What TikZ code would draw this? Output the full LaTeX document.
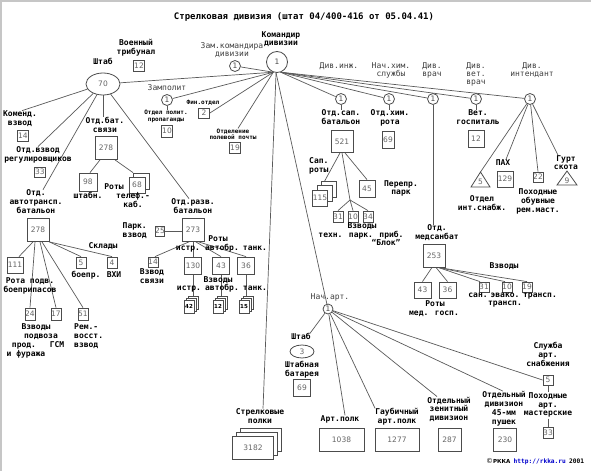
\documentclass[tikz,border=0pt]{standalone}
\usepackage{fontspec}
\setmainfont{DejaVu Sans}
\newfontfamily\mono{DejaVu Sans Mono}
\usetikzlibrary{shapes.geometric,shadows,backgrounds}
\begin{document}
\begin{tikzpicture}[x=1pt,y=-1pt,
 lab/.style={font=\mono\bfseries\fontsize{8}{8.8}\selectfont, align=center, inner sep=0pt, execute at begin node=\strut, execute at end node=\strut},
 reg/.style={font=\mono\fontsize{8}{8}\selectfont, text=black!75, align=center, inner sep=0pt, execute at begin node=\strut, execute at end node=\strut},
 sml/.style={font=\mono\bfseries\fontsize{6}{6.3}\selectfont, align=center, inner sep=0pt},
 bx/.style={draw=black!70, line width=0.8pt, fill=white, inner sep=0pt, font=\fontsize{7.5}{7.5}\selectfont, text=black!60},
 bxs/.style 2 args={bx, minimum width=#1, minimum height=#2},
 el/.style={ellipse, draw=black!70, line width=0.8pt, fill=white, inner sep=0pt, font=\fontsize{7.5}{7.5}\selectfont, text=black!60},
 cir/.style={circle, draw=black!70, line width=0.8pt, fill=white, inner sep=0pt, minimum size=11pt, font=\fontsize{7.5}{7.5}\selectfont, text=black!70},
 stk/.style={general shadow={shadow xshift=#1, shadow yshift=#1, draw=black!70, fill=white, line width=0.8pt}},
 stknum/.style={font=\bfseries\fontsize{5.5}{5.5}\selectfont, text=black},
 ln/.style={draw=black!65, line width=0.7pt},
]
\useasboundingbox (0,0) rectangle (591,471);
\draw[gray!45, line width=1.5pt] (0,1) -- (591,1);
\draw[gray!45, line width=1.5pt] (1,0) -- (1,471);

\node[font=\mono\bfseries\fontsize{9}{9}\selectfont, inner sep=0pt] (title) at (304,17) {Стрелковая дивизия (штат 04/400-416 от 05.04.41)};

% commander
\node[cir, minimum size=21pt] (cmdr) at (277,62) {1};
\node[lab] (cmdrl) at (281,40) {Командир\\дивизии};
\node[reg] (zaml) at (232,50.5) {Зам.командира\\дивизии};
\node[cir] (zamc) at (235,66) {1};
\node[lab] (tribl) at (136,48.5) {Военный\\трибунал};
\node[bxs={11pt}{11pt}] (b12t) at (139,66) {12};
\node[lab] (shtabl) at (103,63) {Штаб};
\node[el, minimum width=34pt, minimum height=22pt] (shtab) at (103,84) {70};
\node[reg] (zampl) at (167,89) {Замполит};
\node[cir] (zampc) at (167,100) {1};
\node[sml] (propl) at (166,116.5) {Отдел полит.\\пропаганды};
\node[bxs={11pt}{12pt}] (b10p) at (167,131) {10};
\node[sml] (finl) at (203,103) {Фин.отдел};
\node[bxs={11pt}{10pt}] (b2) at (204,113) {2};
\node[sml] (pochl) at (233,134) {Отделение\\полевой почты};
\node[bxs={11pt}{11pt}] (b19) at (235,148) {19};

% right top labels
\node[reg] (dinzh) at (339,67) {Див.инж.};
\node[reg] (nhim) at (391,71) {Нач.хим.\\службы};
\node[reg] (dvrach) at (432,71) {Див.\\врач};
\node[reg] (dvet) at (476,75) {Див.\\вет.\\врач};
\node[reg] (dint) at (532,71) {Див.\\интендант};
\node[cir] (sapc) at (341,99) {1};
\node[cir] (himc) at (389,99) {1};
\node[cir] (vrachc) at (433,99) {1};
\node[cir] (vetc) at (476,99) {1};
\node[cir] (intc) at (530,99) {1};

% Shtab children
\node[lab] (koml) at (20,119.5) {Коменд.\\взвод};
\node[bxs={11pt}{11pt}] (b14k) at (23,136) {14};
\node[lab] (regl) at (38,155.5) {Отд.взвод\\регулировщиков};
\node[bxs={11pt}{10pt}] (b33) at (40,172) {33};
\node[lab] (svl) at (105,126) {Отд.бат.\\связи};
\node[bxs={22pt}{23pt}] (b278s) at (106,148) {278};
\node[bxs={18pt}{18pt}] (b98) at (88,182) {98};
\node[bxs={16pt}{16pt}, stk=4pt] (b68) at (137,185) {68};
\node[lab] (rotyl1) at (114,188) {Роты};
\node[lab] (shtabnl) at (88,197) {штабн.};
\node[lab] (telefl) at (133,201) {телеф.-\\каб.};

\node[lab] (atl) at (36,203) {Отд.\\автотрансп.\\батальон};
\node[bxs={22pt}{23pt}] (b278a) at (38,230) {278};
\node[bxs={16pt}{16pt}] (b111) at (15,265) {111};
\node[lab] (rotapl) at (30,286.5) {Рота подв.\\боеприпасов};
\node[lab] (skladl) at (103,247) {Склады};
\node[bxs={10pt}{11pt}] (b5) at (81,262.5) {5};
\node[bxs={10pt}{11pt}] (b4) at (112,262.5) {4};
\node[lab] (boeprl) at (86,276) {боепр.};
\node[lab] (vhil) at (114,276) {ВХИ};
\node[bxs={10pt}{12pt}] (b24) at (30,314) {24};
\node[bxs={10pt}{12pt}] (b17) at (56,314) {17};
\node[bxs={10pt}{12pt}] (b51) at (83,314) {51};
\node[lab] (vzvl1) at (36,328) {Взводы};
\node[lab] (podvl) at (41,337) {подвоза};
\node[lab] (prodl) at (24,346) {прод.};
\node[lab] (gsml) at (57,346) {ГСМ};
\node[lab] (furl) at (26,355) {и фуража};
\node[lab, anchor=west, align=left] (reml) at (74,337) {Рем.-\\восст.\\взвод};

\node[lab] (razvl) at (193,207.5) {Отд.разв.\\батальон};
\node[bxs={22pt}{23pt}] (b273) at (193,229.5) {273};
\node[bxs={9pt}{10pt}] (b25) at (160,231) {25};
\node[lab, anchor=east, align=right] (parkl) at (147,231.5) {Парк.\\взвод};
\node[bxs={10pt}{10pt}] (b14r) at (153,262) {14};
\node[lab] (vsvl) at (152,277.5) {Взвод\\связи};
\node[bxs={17pt}{17pt}] (b130) at (193,265.5) {130};
\node[bxs={17pt}{17pt}] (b43) at (221,265.5) {43};
\node[bxs={17pt}{17pt}] (b36) at (246,265.5) {36};
\node[lab] (rotyl2) at (218,240) {Роты};
\node[lab] (istrl1) at (188,249) {истр.};
\node[lab] (avtl1) at (222,249) {автобр.};
\node[lab] (tankl1) at (255,249) {танк.};
\node[bxs={10pt}{13pt}, stk=4pt, stk=2pt, stknum] (s42) at (189,306.5) {42};
\node[bxs={10pt}{13pt}, stk=4pt, stk=2pt, stknum] (s12) at (218,306.5) {12};
\node[bxs={10pt}{13pt}, stk=4pt, stk=2pt, stknum] (s15) at (244,306.5) {15};
\node[lab] (vzvl2) at (218,281) {Взводы};
\node[lab] (istrl2) at (189,289) {истр.};
\node[lab] (avtl2) at (222,289) {автобр.};
\node[lab] (tankl2) at (255,289) {танк.};

% rifle regiments
\node[lab] (strl) at (260,417.5) {Стрелковые\\полки};
\node[bxs={41pt}{23pt}, stk=8pt, stk=4pt] (s3182) at (253,448) {3182};

% artillery
\node[reg] (nartl) at (330,298) {Нач.арт.};
\node[cir, minimum size=10pt] (artc) at (328,309) {1};
\node[lab] (ashl) at (301,338) {Штаб};
\node[el, minimum width=24pt, minimum height=13pt] (e3) at (302,351.5) {3};
\node[lab] (batl) at (302,370) {Штабная\\батарея};
\node[bxs={17pt}{17pt}] (b69a) at (302,387.5) {69};
\node[lab] (apl) at (340,420) {Арт.полк};
\node[bxs={45pt}{23pt}] (b1038) at (341.5,439.5) {1038};
\node[lab] (gaubl) at (397,417.5) {Гаубичный\\арт.полк};
\node[bxs={44pt}{23pt}] (b1277) at (397,439.5) {1277};
\node[lab] (zenl) at (449,410) {Отдельный\\зенитный\\дивизион};
\node[bxs={23pt}{23pt}] (b287) at (449.5,439.5) {287};
\node[lab] (p45l) at (504,409) {Отдельный\\дивизион\\45-мм\\пушек};
\node[bxs={23pt}{23pt}] (b230) at (505,439.5) {230};
\node[lab] (snabl) at (548,355.5) {Служба\\арт.\\снабжения};
\node[bxs={10pt}{10pt}] (b5s) at (548,380) {5};
\node[lab] (pohl) at (548,405.5) {Походные\\арт.\\мастерские};
\node[bxs={10pt}{11pt}] (b33s) at (548,432.5) {33};

% sapper battalion
\node[lab] (sapl) at (341,118.5) {Отд.сап.\\батальон};
\node[bxs={22pt}{22pt}] (b521) at (342,141.5) {521};
\node[bxs={15pt}{16pt}, stk=9pt, stk=4.5pt] (s115) at (320,198) {115};
\node[lab, anchor=west, align=left] (saprl) at (309,166.5) {Сап.\\роты};
\node[bxs={16pt}{17pt}] (b45) at (367,188.5) {45};
\node[lab] (perl) at (401,189) {Перепр.\\парк};
\coordinate (br) at (350,200);
\node[bxs={10pt}{11pt}] (b31) at (338,216.5) {31};
\node[bxs={10pt}{11pt}] (b10s) at (353,216.5) {10};
\node[bxs={10pt}{11pt}] (b34) at (368,216.5) {34};
\node[lab] (vzvl3) at (362,227) {Взводы};
\node[lab] (tehl) at (361,236) {техн. парк. приб.};
\node[lab] (blokl) at (386,244) {“Блок”};

% chem company
\node[lab] (himl) at (390,118.5) {Отд.хим.\\рота};
\node[bxs={12pt}{17pt}] (b69h) at (388,140) {69};

% medical battalion
\node[lab] (medl) at (437,233.5) {Отд.\\медсанбат};
\node[bxs={22pt}{23pt}] (b253) at (434,255.5) {253};
\node[bxs={17pt}{16pt}] (b43m) at (422.5,290) {43};
\node[bxs={17pt}{16pt}] (b36m) at (447.5,290) {36};
\node[lab] (rotyl3) at (435,305) {Роты};
\node[lab] (medgl) at (434,314) {мед. госп.};
\node[bxs={10pt}{10pt}] (b31m) at (484,287) {31};
\node[bxs={10pt}{10pt}] (b10m) at (507,287) {10};
\node[bxs={10pt}{10pt}] (b19m) at (527,287) {19};
\node[lab] (vzvl4) at (504,267) {Взводы};
\node[lab] (sanl) at (478,296) {сан.};
\node[lab] (evakl) at (505,296) {эвако.};
\node[lab] (trl1) at (540,296) {трансп.};
\node[lab] (trl2) at (505,304) {трансп.};

% vet hospital
\node[lab] (vetl) at (478,118.5) {Вет.\\госпиталь};
\node[bxs={16pt}{17pt}] (b12v) at (476,138.5) {12};

% intendant
\coordinate (t5a) at (480.5,172);
\coordinate (t5l) at (471,187);
\coordinate (t5r) at (490,187);
\draw[draw=black!70, line width=0.8pt, fill=white] (t5l) -- (t5a) -- (t5r) -- cycle;
\node[font=\fontsize{7.5}{7.5}\selectfont, text=black!60, inner sep=0pt] (t5n) at (480.5,182) {5};
\node[lab] (otdl) at (482,204) {Отдел\\инт.снабж.};
\node[lab] (pahl) at (503,164) {ПАХ};
\node[bxs={16pt}{16pt}] (b129) at (505,179) {129};
\node[bxs={10pt}{10pt}] (b22) at (538,177) {22};
\node[lab] (obuvl) at (538,202) {Походные\\обувные\\рем.маст.};
\coordinate (t9a) at (567,171);
\coordinate (t9l) at (557,185);
\coordinate (t9r) at (577,185);
\draw[draw=black!70, line width=0.8pt, fill=white] (t9l) -- (t9a) -- (t9r) -- cycle;
\node[font=\fontsize{7.5}{7.5}\selectfont, text=black!60, inner sep=0pt] (t9n) at (567,180.5) {9};
\node[lab] (gurtl) at (566,164) {Гурт\\скота};

% copyright
\node[anchor=west, inner sep=0pt] (copyr) at (486,462) {{\fontsize{7}{7}\selectfont ©}{\bfseries\fontsize{5.5}{6}\selectfont РККА} {\color{blue!80!black}\mono\bfseries\fontsize{6.2}{7}\selectfont http://rkka.ru} {\mono\bfseries\fontsize{6.2}{7}\selectfont 2001}};

\begin{scope}[on background layer]
\draw[ln] (zamc) -- (cmdr.-110);
\draw[ln] (shtab) -- (cmdr.-110);
\draw[ln] (zampc) -- (cmdr.-110);
\draw[ln] (b2.east) -- (cmdr.-110);
\draw[ln] ([xshift=5pt]pochl.north) -- (cmdr.-110);
\draw[ln] (cmdr.-95) -- ([xshift=3pt]strl.north);
\draw[ln] (cmdr.-95) -- (artc);
\foreach \c in {sapc,himc,vrachc,vetc,intc} \draw[ln] (cmdr.-70) -- (\c);

\draw[ln] (zampc.south) -- (zampc.south |- propl.north);
\draw[ln] (sapc.south) -- (sapc.south |- sapl.north);
\draw[ln] (himc.south) -- (himc.south |- himl.north);
\draw[ln] (vrachc.south) -- (vrachc.south |- medl.north);
\draw[ln] (vetc.south) -- (vetc.south |- vetl.north);

\draw[ln] (intc) -- (t5a);
\draw[ln] (intc) -- ([xshift=3pt]pahl.north);
\draw[ln] (intc) -- (b22.north);
\draw[ln] (intc) -- ([xshift=-8pt]gurtl.north);

\draw[ln] (shtab) -- ([xshift=2pt]koml.north);
\draw[ln] (shtab) -- (regl.north);
\draw[ln] (shtab.south) -- (shtab.south |- svl.north);
\draw[ln] (shtab) -- ([xshift=7pt]atl.north);
\draw[ln] (shtab) -- ([xshift=-4pt]razvl.north);

\draw[ln] ([xshift=-6pt]b278s.south) -- ([xshift=2pt]b98.north);
\draw[ln] ([xshift=9pt]b278s.south) -- ([xshift=-4pt,yshift=4pt]b68.north);

\draw[ln] ([xshift=-5pt]b278a.south) -- ([xshift=4pt]b111.north);
\draw[ln] (b278a.south east) -- (b5.north);
\draw[ln] (b278a.south east) -- (b4.north);
\draw[ln] ([xshift=-3pt]b278a.south) -- (b24.north);
\draw[ln] ([xshift=2pt]b278a.south) -- (b17.north);
\draw[ln] ([xshift=4pt]b278a.south) -- (b51.north);

\draw[ln] (b25.east) -- (b273.west |- b25.east);
\draw[ln] ([xshift=-3pt]b273.south) -- ([xshift=2pt]b14r.north);
\draw[ln] (b273.south) -- (b130.north);
\draw[ln] ([xshift=2pt]b273.south) -- (b43.north);
\draw[ln] ([xshift=4pt]b273.south) -- (b36.north);
\draw[ln] (b130.south) -- (b130.south |- s42.north);
\draw[ln] (b43.south) -- (b43.south |- s12.north);
\draw[ln] (b36.south) -- (b36.south |- s15.north);

\draw[ln] ([xshift=-2pt]b521.south) -- (s115.north);
\draw[ln] (b521.south) -- (br);
\draw[ln] (br) -- (b31.north);
\draw[ln] (br) -- (b10s.north);
\draw[ln] (br) -- (b34.north);
\draw[ln] ([xshift=3pt]b521.south) -- (b45.north);

\draw[ln] ([xshift=-2pt]b253.south) -- (b43m.north);
\draw[ln] ([xshift=2pt]b253.south) -- (b36m.north);
\draw[ln] ([xshift=4pt]b253.south) -- ([xshift=-4pt]b31m.north);
\draw[ln] ([xshift=4pt]b253.south) -- ([xshift=-2pt]b10m.north);
\draw[ln] ([xshift=4pt]b253.south) -- (b19m.north);

\draw[ln] (artc) -- ([xshift=9pt]ashl.north);
\draw[ln] (artc) -- ([xshift=5pt]apl.north);
\draw[ln] (artc) -- (gaubl.north west);
\draw[ln] (artc) -- ([xshift=-12pt]zenl.north);
\draw[ln] (artc) -- ([xshift=-1pt]p45l.north);
\draw[ln] (artc) -- (b5s.west);
\draw[ln] (b5s.south) -- (pohl.north);
\draw[ln] (pohl.south) -- (b33s.north);
\end{scope}
\end{tikzpicture}
\end{document}
